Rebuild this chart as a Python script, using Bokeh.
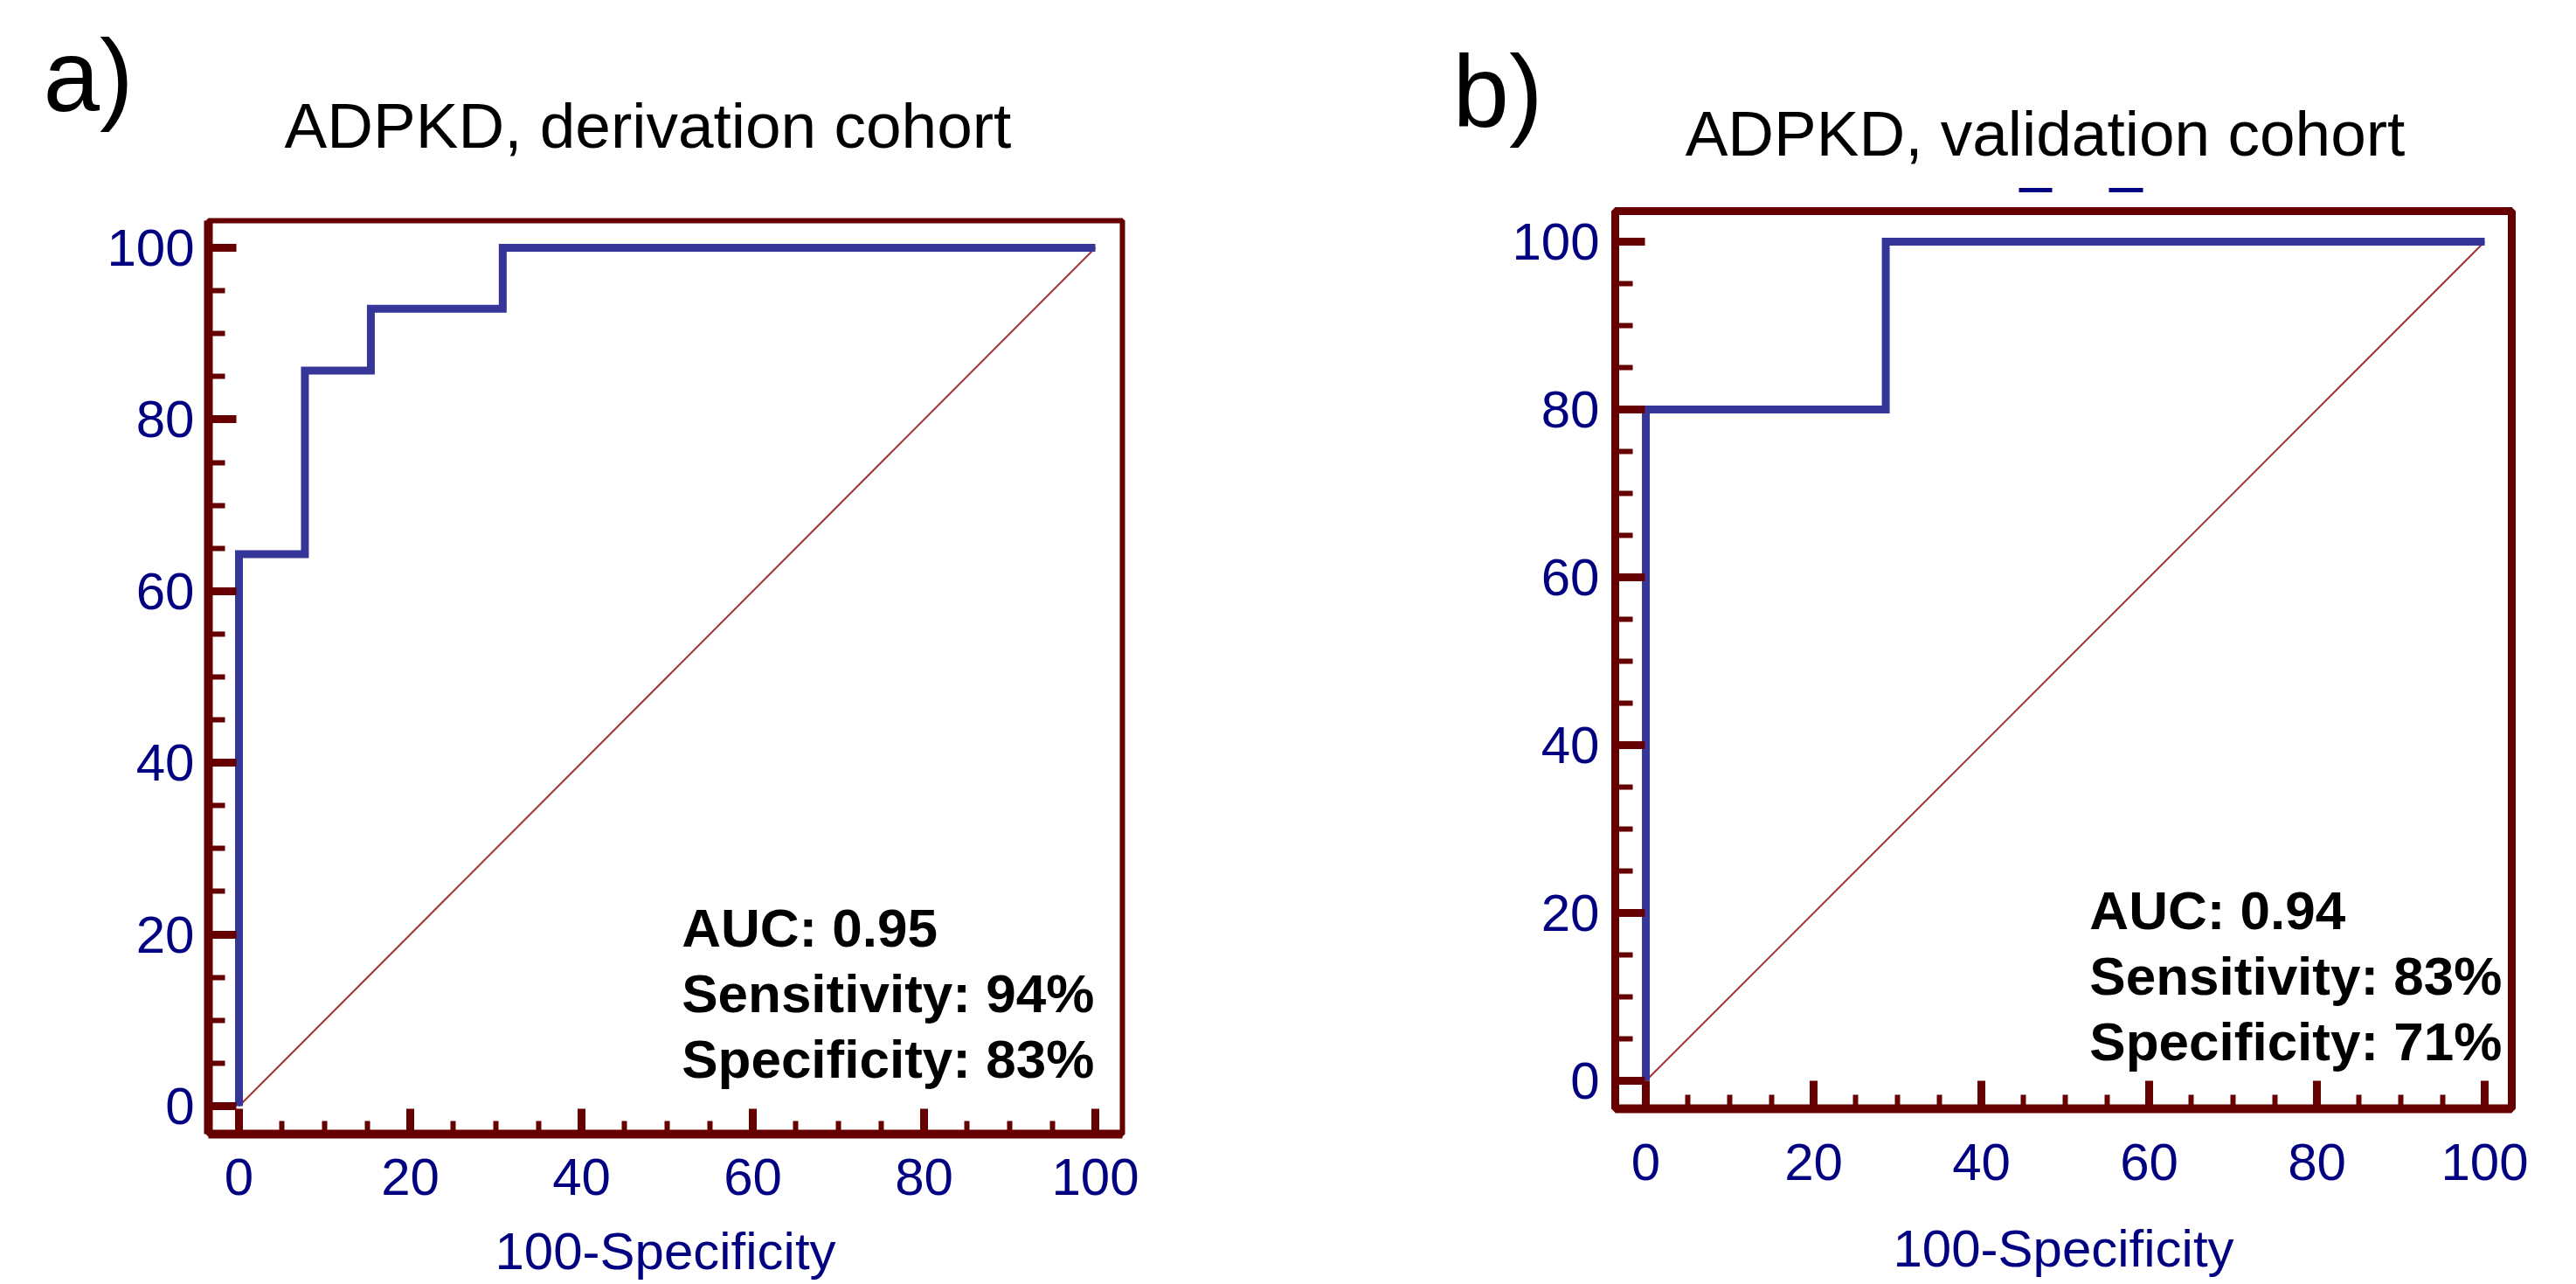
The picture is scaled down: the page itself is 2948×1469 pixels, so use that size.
from bokeh.plotting import figure
from bokeh.layouts import row, column
from bokeh.models import FixedTicker, Range1d
from bokeh.core.properties import value
from bokeh.embed import file_html
from bokeh.resources import INLINE

FONT = "Liberation Sans"

# ---------------- data ----------------
fpr_a = [0, 0, 7.7, 7.7, 15.4, 15.4, 30.8, 30.8, 100]
tpr_a = [0, 64.3, 64.3, 85.7, 85.7, 92.9, 92.9, 100, 100]
fpr_b = [0, 0, 28.6, 28.6, 100]
tpr_b = [0, 80, 80, 100, 100]
ref_x = [0, 100]
ref_y = [0, 100]
major_ticks = [0, 20, 40, 60, 80, 100]
minor_ticks = [0, 5, 10, 15, 20, 25, 30, 35, 40, 45, 50, 55, 60, 65, 70, 75, 80, 85, 90, 95, 100]
titles = ["ADPKD, derivation cohort", "ADPKD, validation cohort"]
panel_tags = ["a)", "b)"]
stats_a = ["AUC: 0.95", "Sensitivity: 94%", "Specificity: 83%"]
stats_b = ["AUC: 0.94", "Sensitivity: 83%", "Specificity: 71%"]
x_title = "100-Specificity"

FRAME = "#660000"
NAVY = "#000080"
ROC = "#363699"
DIAG = "#a03535"
MID = 0.347  # distance (in em) from alphabetic baseline up to the text box middle

TITLE_FS = 73
TAG_FS = 116
STATS_FS = 62


def make_header(cfg, title, tag):
    w, h = cfg["w"], cfg["hdr_h"]
    hd = figure(width=w, height=h, x_range=Range1d(0, w), y_range=Range1d(h, 0),
                output_backend="svg", toolbar_location=None, title=None,
                x_axis_type=None, y_axis_type=None, min_border=0, frame_align=False)
    hd.outline_line_color = None
    hd.background_fill_color = "white"
    hd.border_fill_color = "white"
    tx, tb = cfg["title_pos"]
    hd.text(x=[tx], y=[tb - MID * TITLE_FS], text=[title], text_font=value(FONT),
            text_font_size=f"{TITLE_FS}px", text_color="black",
            text_align="center", text_baseline="middle")
    gx, gb = cfg["tag_pos"]
    hd.text(x=[gx], y=[gb - MID * TAG_FS], text=[tag], text_font=value(FONT),
            text_font_size=f"{TAG_FS}px", text_color="black",
            text_align="left", text_baseline="middle")
    for (x0, x1, yy) in cfg.get("dashes", []):
        hd.segment(x0=[x0], y0=[yy], x1=[x1], y1=[yy], line_color=NAVY, line_width=5)
    return hd


def make_panel(cfg, fpr, tpr, stats):
    p = figure(width=cfg["w"], height=cfg["h"], x_range=cfg["xr"], y_range=cfg["yr"],
               output_backend="svg", toolbar_location=None, title=None, frame_align=False,
               min_border_left=cfg["mb"][0], min_border_right=cfg["mb"][1],
               min_border_top=cfg["mb"][2], min_border_bottom=cfg["mb"][3])
    p.background_fill_color = "white"
    p.border_fill_color = "white"
    p.xgrid.visible = False
    p.ygrid.visible = False
    p.outline_line_color = FRAME
    p.outline_line_width = cfg["outline_w"]
    p.outline_line_alpha = 1.0

    ticker = FixedTicker(ticks=major_ticks, minor_ticks=minor_ticks)
    for ax, key in ((p.xaxis[0], "x"), (p.yaxis[0], "y")):
        ax.ticker = ticker
        ax.axis_line_color = FRAME
        ax.axis_line_width = cfg[key + "_axis_w"]
        ax.major_tick_line_color = FRAME
        ax.minor_tick_line_color = FRAME
        ax.major_tick_line_width = 9
        ax.minor_tick_line_width = 6
        ax.major_tick_in = cfg[key + "_major_in"]
        ax.major_tick_out = 0
        ax.minor_tick_in = cfg[key + "_minor_in"]
        ax.minor_tick_out = 0
        ax.major_label_text_font = FONT
        ax.major_label_text_font_size = "60px"
        ax.major_label_text_color = NAVY
        ax.major_label_standoff = cfg[key + "_label_standoff"]
    p.xaxis.axis_label = x_title
    p.xaxis.axis_label_text_font = FONT
    p.xaxis.axis_label_text_font_size = "60px"
    p.xaxis.axis_label_text_font_style = "normal"
    p.xaxis.axis_label_text_color = NAVY
    p.xaxis.axis_label_standoff = cfg["xtitle_standoff"]

    p.line(ref_x, ref_y, line_color=DIAG, line_width=2)
    p.line(fpr, tpr, line_color=ROC, line_width=9, line_join="miter", line_cap="butt")

    sx, sy0, sdy = cfg["stats_pos"]
    shift = MID * STATS_FS / cfg["px_per_unit"]
    p.text(x=[sx] * len(stats), y=[sy0 + shift - i * sdy for i in range(len(stats))], text=stats,
           text_font=value(FONT), text_font_style="bold", text_font_size=f"{STATS_FS}px",
           text_color="black", text_baseline="middle", text_align="left")
    return p


TOTAL_H = 1468

cfg_a = dict(w=1460, hdr_h=200, h=TOTAL_H - 200,
             xr=(-3.57, 103.16), yr=(-3.26, 103.16), px_per_unit=9.82,
             mb=(238, 1460 - 1284, 52, TOTAL_H - 1297), outline_w=6,
             x_axis_w=10, y_axis_w=10,
             x_major_in=29, x_minor_in=15, y_major_in=32, y_minor_in=19,
             x_label_standoff=28, y_label_standoff=16, xtitle_standoff=28,
             stats_pos=(51.7, 18.6, 7.65),
             title_pos=(741, 168), tag_pos=(49, 127))
cfg_b = dict(w=1486, hdr_h=230, h=TOTAL_H - 230,
             xr=(-3.65, 103.23), yr=(-3.33, 103.65), px_per_unit=9.6,
             mb=(1848 - 1460, 2946 - 2874, 241 - 230, TOTAL_H - 1268), outline_w=9,
             x_axis_w=10, y_axis_w=8,
             x_major_in=32, x_minor_in=16, y_major_in=34, y_minor_in=20,
             x_label_standoff=40, y_label_standoff=18, xtitle_standoff=42,
             stats_pos=(52.9, 18.1, 7.85),
             title_pos=(2340 - 1460, 177), tag_pos=(1662 - 1460, 145),
             dashes=[(2310 - 1460, 2348 - 1460, 217), (2413 - 1460, 2452 - 1460, 217)])

ha = make_header(cfg_a, titles[0], panel_tags[0])
hb = make_header(cfg_b, titles[1], panel_tags[1])
pa = make_panel(cfg_a, fpr_a, tpr_a, stats_a)
pb = make_panel(cfg_b, fpr_b, tpr_b, stats_b)

layout = row(column(ha, pa), column(hb, pb))
open("out.html", "w").write(file_html(layout, INLINE))
